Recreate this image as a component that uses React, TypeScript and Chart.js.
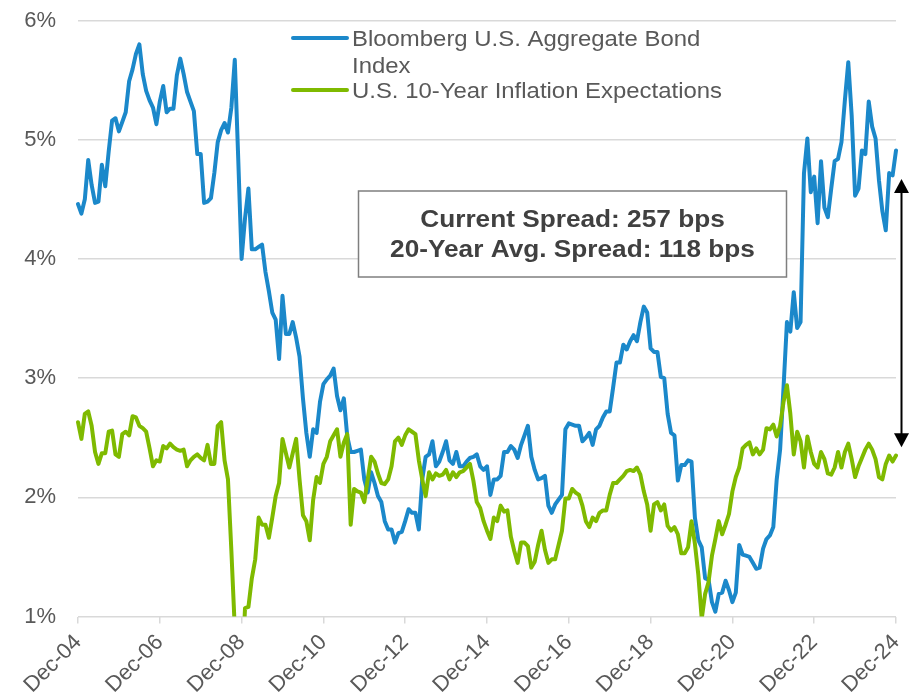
import React, { useEffect, useRef } from "react";
import { Chart, registerables } from "chart.js";

Chart.register(...registerables);

// ---------- DATA ----------
const MONTH_NAMES = ["Jan", "Feb", "Mar", "Apr", "May", "Jun", "Jul", "Aug", "Sep", "Oct", "Nov", "Dec"];
// Monthly categories Dec-04 .. Dec-24 (241 months)
const months: string[] = [];
for (let i = 0; i <= 240; i++) {
  const idx = 11 + i;
  const yr = 2004 + Math.floor(idx / 12);
  months.push(`${MONTH_NAMES[idx % 12]}-${String(yr % 100).padStart(2, "0")}`);
}

const tickLabels = ["Dec-04", "Dec-06", "Dec-08", "Dec-10", "Dec-12", "Dec-14", "Dec-16", "Dec-18", "Dec-20", "Dec-22", "Dec-24"];
const yTicks = [1, 2, 3, 4, 5, 6];

const seriesNames = ["Bloomberg U.S. Aggregate Bond Index", "U.S. 10-Year Inflation Expectations"];
const legendLines = [["Bloomberg U.S. Aggregate Bond", "Index"], ["U.S. 10-Year Inflation Expectations"]];
const boxLines = ["Current Spread: 257 bps", "20-Year Avg. Spread: 118 bps"];
const arrowRange = [4.67, 2.42];

// Bloomberg U.S. Aggregate Bond Index yield (%)
const aggYield = [
  4.46, 4.38, 4.50, 4.83, 4.62, 4.47, 4.48, 4.79, 4.61, 4.90, 5.16, 5.18,
  5.07, 5.15, 5.23, 5.49, 5.59, 5.72, 5.80, 5.55, 5.41, 5.33, 5.27, 5.13,
  5.32, 5.45, 5.23, 5.26, 5.26, 5.54, 5.68, 5.55, 5.40, 5.32, 5.24, 4.88,
  4.88, 4.47, 4.48, 4.51, 4.72, 4.98, 5.08, 5.14, 5.06, 5.27, 5.67, 4.85,
  4.00, 4.34, 4.59, 4.08, 4.08, 4.10, 4.12, 3.89, 3.73, 3.55, 3.49, 3.16,
  3.69, 3.37, 3.37, 3.47, 3.34, 3.18, 2.83, 2.54, 2.34, 2.57, 2.54, 2.80,
  2.95, 2.99, 3.02, 3.08, 2.85, 2.73, 2.83, 2.51, 2.38, 2.38, 2.39, 2.40,
  2.15, 2.04, 2.21, 2.12, 2.01, 1.96, 1.80, 1.73, 1.73, 1.62, 1.70, 1.71,
  1.80, 1.90, 1.87, 1.87, 1.73, 2.15, 2.34, 2.36, 2.47, 2.26, 2.30, 2.38,
  2.47, 2.31, 2.28, 2.38, 2.26, 2.26, 2.30, 2.33, 2.34, 2.36, 2.26, 2.23,
  2.26, 2.02, 2.15, 2.15, 2.18, 2.38, 2.38, 2.43, 2.40, 2.33, 2.44, 2.52,
  2.60, 2.34, 2.23, 2.15, 2.16, 2.18, 1.93, 1.87, 1.94, 1.98, 2.02, 2.57,
  2.62, 2.61, 2.60, 2.60, 2.47, 2.50, 2.54, 2.44, 2.57, 2.60, 2.67, 2.72,
  2.72, 2.92, 3.13, 3.13, 3.28, 3.24, 3.31, 3.36, 3.31, 3.47, 3.60, 3.55,
  3.25, 3.22, 3.22, 3.01, 3.00, 2.70, 2.54, 2.52, 2.14, 2.27, 2.27, 2.31,
  2.30, 1.83, 1.64, 1.58, 1.32, 1.31, 1.12, 1.04, 1.19, 1.20, 1.30, 1.22,
  1.12, 1.20, 1.60, 1.52, 1.51, 1.50, 1.45, 1.40, 1.41, 1.57, 1.65, 1.68,
  1.75, 2.15, 2.40, 2.92, 3.47, 3.39, 3.72, 3.42, 3.47, 4.72, 5.01, 4.56,
  4.69, 4.30, 4.82, 4.43, 4.35, 4.59, 4.82, 4.84, 4.98, 5.33, 5.65, 5.20,
  4.53, 4.59, 4.91, 4.88, 5.32, 5.11, 5.01, 4.66, 4.40, 4.24, 4.72, 4.70,
  4.91,
];

// U.S. 10-Year inflation expectations (%)
const inflationExp = [
  2.63, 2.49, 2.70, 2.72, 2.60, 2.38, 2.28, 2.37, 2.37, 2.55, 2.56, 2.36,
  2.34, 2.53, 2.55, 2.52, 2.68, 2.67, 2.60, 2.58, 2.55, 2.41, 2.26, 2.31,
  2.30, 2.43, 2.41, 2.45, 2.42, 2.40, 2.39, 2.40, 2.26, 2.31, 2.34, 2.36,
  2.33, 2.31, 2.44, 2.28, 2.28, 2.60, 2.63, 2.31, 2.15, 1.55, 0.90, 0.30,
  0.40, 1.07, 1.08, 1.32, 1.48, 1.83, 1.77, 1.77, 1.66, 1.83, 2.01, 2.12,
  2.49, 2.37, 2.25, 2.37, 2.49, 2.15, 1.85, 1.80, 1.64, 1.98, 2.17, 2.12,
  2.28, 2.34, 2.47, 2.52, 2.57, 2.34, 2.46, 2.53, 1.77, 2.07, 2.05, 2.04,
  1.96, 2.15, 2.34, 2.30, 2.20, 2.12, 2.11, 2.15, 2.26, 2.47, 2.50, 2.44,
  2.52, 2.57, 2.55, 2.53, 2.31, 2.15, 2.01, 2.21, 2.15, 2.20, 2.18, 2.19,
  2.23, 2.15, 2.21, 2.17, 2.21, 2.22, 2.25, 2.28, 2.14, 1.96, 1.91, 1.80,
  1.72, 1.65, 1.83, 1.80, 1.93, 1.88, 1.89, 1.67, 1.55, 1.45, 1.62, 1.62,
  1.59, 1.41, 1.46, 1.60, 1.72, 1.56, 1.45, 1.48, 1.48, 1.60, 1.72, 1.99,
  1.99, 2.07, 2.04, 2.02, 1.93, 1.80, 1.75, 1.83, 1.80, 1.87, 1.89, 1.89,
  2.02, 2.12, 2.12, 2.15, 2.18, 2.22, 2.23, 2.22, 2.25, 2.19, 2.05, 1.94,
  1.72, 1.94, 1.96, 1.89, 1.94, 1.76, 1.72, 1.75, 1.69, 1.53, 1.53, 1.58,
  1.80, 1.61, 1.35, 0.98, 1.19, 1.29, 1.51, 1.65, 1.80, 1.69, 1.77, 1.86,
  2.05, 2.17, 2.25, 2.41, 2.44, 2.46, 2.36, 2.41, 2.36, 2.40, 2.58, 2.57,
  2.61, 2.51, 2.60, 2.80, 2.94, 2.70, 2.36, 2.55, 2.47, 2.25, 2.51, 2.38,
  2.28, 2.25, 2.38, 2.32, 2.20, 2.19, 2.25, 2.38, 2.25, 2.38, 2.45, 2.32,
  2.17, 2.26, 2.33, 2.40, 2.45, 2.40, 2.32, 2.17, 2.15, 2.28, 2.35, 2.30,
  2.35,
];

// ---------- STYLE ----------
const BLUE = "#1B88CA";
const GREEN = "#7FBA00";
const TEXT = "#595959";
const GRID = "#D9D9D9";
const FONT = '"Liberation Sans", Arial, sans-serif';

function stretchedText(ctx: CanvasRenderingContext2D, text: string, x: number, y: number, sx: number, align: CanvasTextAlign) {
  ctx.save();
  ctx.translate(x, y);
  ctx.scale(sx, 1);
  ctx.textAlign = align;
  ctx.fillText(text, 0, 0);
  ctx.restore();
}

const overlayPlugin = {
  id: "overlay",
  afterDraw(chart: any) {
    const ctx: CanvasRenderingContext2D = chart.ctx;
    const yScale = chart.scales.y;
    const area = chart.chartArea;
    ctx.save();

    // Legend
    const legendX = 293;
    const legendTextX = 352;
    const colors = [BLUE, GREEN];
    const lineYs = [38, 90];
    const textBaselines = [[45.5, 72.5], [98]];
    ctx.lineCap = "round";
    ctx.lineWidth = 4;
    colors.forEach((c, i) => {
      ctx.strokeStyle = c;
      ctx.beginPath();
      ctx.moveTo(legendX, lineYs[i]);
      ctx.lineTo(legendX + 54, lineYs[i]);
      ctx.stroke();
    });
    ctx.fillStyle = TEXT;
    ctx.font = `22px ${FONT}`;
    ctx.textBaseline = "alphabetic";
    legendLines.forEach((lines, i) => {
      lines.forEach((t, j) => stretchedText(ctx, t, legendTextX, textBaselines[i][j], 1.087, "left"));
    });

    // Annotation box
    const bx = 358.5, by = 191, bw = 428, bh = 86;
    ctx.fillStyle = "#FFFFFF";
    ctx.fillRect(bx, by, bw, bh);
    ctx.strokeStyle = "#7F7F7F";
    ctx.lineWidth = 1.5;
    ctx.strokeRect(bx, by, bw, bh);
    ctx.fillStyle = "#404040";
    ctx.font = `bold 23px ${FONT}`;
    const cx = bx + bw / 2;
    stretchedText(ctx, boxLines[0], cx, 226.7, 1.14, "center");
    stretchedText(ctx, boxLines[1], cx, 256.7, 1.14, "center");

    // Double arrow (current spread)
    const ax = area.right + 5.5;
    const yTop = yScale.getPixelForValue(arrowRange[0]);
    const yBot = yScale.getPixelForValue(arrowRange[1]);
    const hw = 7.5, hl = 14;
    ctx.strokeStyle = "#000000";
    ctx.fillStyle = "#000000";
    ctx.lineWidth = 2;
    ctx.lineCap = "butt";
    ctx.beginPath();
    ctx.moveTo(ax, yTop + hl - 1);
    ctx.lineTo(ax, yBot - hl + 1);
    ctx.stroke();
    ctx.beginPath();
    ctx.moveTo(ax, yTop);
    ctx.lineTo(ax - hw, yTop + hl);
    ctx.lineTo(ax + hw, yTop + hl);
    ctx.closePath();
    ctx.fill();
    ctx.beginPath();
    ctx.moveTo(ax, yBot);
    ctx.lineTo(ax - hw, yBot - hl);
    ctx.lineTo(ax + hw, yBot - hl);
    ctx.closePath();
    ctx.fill();

    ctx.restore();
  },
};

export default function App() {
  const canvasRef = useRef<HTMLCanvasElement | null>(null);

  useEffect(() => {
    document.body.style.margin = "0";
    const canvas = canvasRef.current;
    if (!canvas) return;
    const chart = new Chart(canvas, {
      type: "line",
      data: {
        labels: months,
        datasets: [
          {
            label: seriesNames[0],
            data: aggYield,
            borderColor: BLUE,
            backgroundColor: BLUE,
            borderWidth: 4,
            pointRadius: 0,
            tension: 0,
            borderJoinStyle: "round",
            borderCapStyle: "round",
            order: 2,
          },
          {
            label: seriesNames[1],
            data: inflationExp,
            borderColor: GREEN,
            backgroundColor: GREEN,
            borderWidth: 4,
            pointRadius: 0,
            tension: 0,
            borderJoinStyle: "round",
            borderCapStyle: "round",
            order: 1,
          },
        ],
      },
      options: {
        animation: false,
        responsive: false,
        devicePixelRatio: 1,
        events: [],
        layout: { padding: { top: 20.5, right: 17, bottom: 0, left: 0 } },
        plugins: { legend: { display: false }, tooltip: { enabled: false } },
        scales: {
          x: {
            type: "category",
            offset: false,
            border: { display: false },
            grid: { drawOnChartArea: false, drawTicks: true, tickLength: 7, color: GRID, lineWidth: 1.5 },
            ticks: {
              autoSkip: false,
              maxRotation: 45,
              minRotation: 45,
              padding: 6,
              color: TEXT,
              font: { family: FONT, size: 22 },
              callback: function (this: any, value: any) {
                return this.getLabelForValue(value);
              },
            },
            afterBuildTicks: (scale: any) => {
              scale.ticks = scale.ticks.filter((t: any) => tickLabels.includes(months[t.value]));
            },
            afterFit: (scale: any) => {
              scale.height = 83.5;
              scale.paddingLeft = 0;
              scale.paddingRight = 0;
            },
          },
          y: {
            min: yTicks[0],
            max: yTicks[yTicks.length - 1],
            border: { display: false },
            grid: { color: GRID, lineWidth: 1.5, drawTicks: false, tickLength: 0 },
            ticks: {
              stepSize: 1,
              padding: 22,
              color: TEXT,
              font: { family: FONT, size: 22 },
              callback: (v: any) => `${v}%`,
            },
            afterFit: (scale: any) => {
              scale.width = 78;
              scale.paddingTop = 0;
              scale.paddingBottom = 0;
            },
          },
        },
      },
      plugins: [overlayPlugin],
    });
    return () => chart.destroy();
  }, []);

  return (
    <div style={{ width: 913, height: 700, background: "#fff" }}>
      <canvas ref={canvasRef} width={913} height={700} style={{ display: "block" }} />
    </div>
  );
}
